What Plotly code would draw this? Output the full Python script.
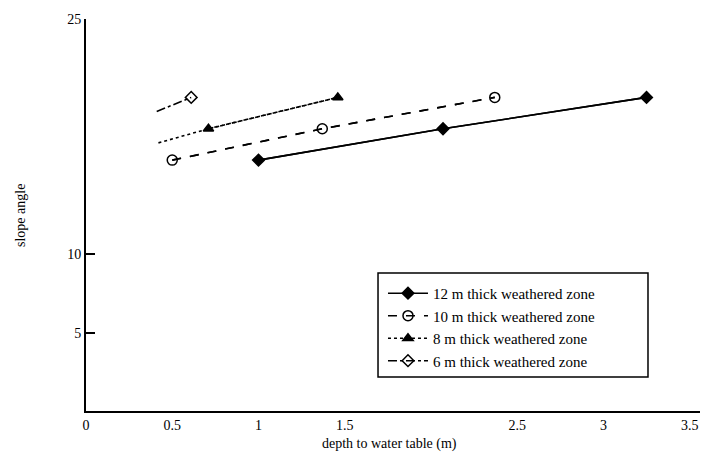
import plotly.graph_objects as go

# Data
depth_12 = [1.0, 2.07, 3.25]
slope_12 = [16, 18, 20]
marked_12 = [True, True, True]

depth_10 = [0.5, 1.37, 2.37]
slope_10 = [16, 18, 20]
marked_10 = [True, True, True]

depth_8 = [0.42, 0.71, 1.46]
slope_8 = [17.1, 18, 20]
marked_8 = [False, True, True]

depth_6 = [0.41, 0.61]
slope_6 = [19.1, 20]
marked_6 = [False, True]

x_tickvals = [0, 0.5, 1, 1.5, 2.5, 3, 3.5]
x_ticktext = ["0", "0.5", "1", "1.5", "2.5", "3", "3.5"]
y_tickvals = [5, 10, 25]
y_ticktext = ["5", "10", "25"]

series = [
    ("12 m thick weathered zone", depth_12, slope_12, marked_12, "solid", "diamond", 9),
    ("10 m thick weathered zone", depth_10, slope_10, marked_10, "dash", "circle-open", 10),
    ("8 m thick weathered zone", depth_8, slope_8, marked_8, "dot", "triangle-up", 9),
    ("6 m thick weathered zone", depth_6, slope_6, marked_6, "dashdot", "diamond-open", 9),
]

FONT = "Liberation Serif, Times New Roman, serif"

fig = go.Figure()
for name, xs, ys, marked, dash, sym, msize in series:
    # full line (including unmarked start points)
    fig.add_trace(go.Scatter(
        x=xs, y=ys, mode="lines", showlegend=False, hoverinfo="skip",
        line=dict(color="black", width=1.6, dash=dash),
    ))
    mx = [x for x, m in zip(xs, marked) if m]
    my = [y for y, m in zip(ys, marked) if m]
    fig.add_trace(go.Scatter(
        x=mx, y=my, mode="lines+markers", name=name,
        line=dict(color="black", width=1.6, dash=dash),
        marker=dict(symbol=sym, size=msize, color="black",
                    line=dict(color="black", width=1.5)),
    ))

# The page body adds an 8px offset, so the figure is 8px smaller than the window.
fig.update_layout(
    width=700, height=458,
    margin=dict(l=78, r=8, t=11, b=55, autoexpand=False),
    paper_bgcolor="white", plot_bgcolor="white",
    font=dict(family=FONT, size=14, color="black"),
    showlegend=True,
    legend=dict(
        x=0.4837, y=0.342, xanchor="left", yanchor="top",
        bgcolor="rgba(0,0,0,0)", borderwidth=0,
        font=dict(family=FONT, size=15, color="black"),
        tracegroupgap=0, itemwidth=40,
    ),
    shapes=[dict(
        type="rect", xref="paper", yref="paper",
        x0=0.4756, x1=0.9153, y0=0.0867, y1=0.352,
        line=dict(color="black", width=1.5), fillcolor="rgba(255,255,255,0)", layer="above",
    )],
    xaxis=dict(
        range=[0, 3.56], tickvals=x_tickvals, ticktext=x_ticktext,
        showgrid=False, zeroline=False, showline=True, linecolor="black", linewidth=2,
        ticks="", tickfont=dict(family=FONT, size=14), automargin=False,
    ),
    yaxis=dict(
        range=[0, 25], tickvals=y_tickvals, ticktext=y_ticktext,
        showgrid=False, zeroline=False, showline=True, linecolor="black", linewidth=2,
        ticks="inside", ticklen=9, tickwidth=2, tickcolor="black",
        tickfont=dict(family=FONT, size=14), automargin=False,
    ),
    annotations=[
        dict(text="slope angle", textangle=-90, showarrow=False,
             xref="paper", yref="paper", x=-0.1075, y=0.5,
             xanchor="center", yanchor="middle",
             font=dict(family=FONT, size=14, color="black")),
        dict(text="depth to water table (m)", showarrow=False,
             xref="paper", yref="paper", x=0.495, y=-0.084,
             xanchor="center", yanchor="middle",
             font=dict(family=FONT, size=14, color="black")),
    ],
)

fig.write_html("out.html")
